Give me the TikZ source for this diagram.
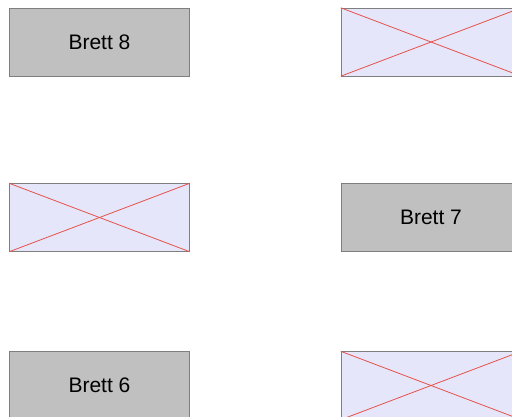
\documentclass[tikz,border=0pt]{standalone}
\usepackage{fontspec}
\setmainfont{Liberation Sans}
\definecolor{brettgrau}{HTML}{C0C0C0}
\definecolor{randgrau}{HTML}{7F7F7F}
\definecolor{leerfeld}{HTML}{E6E6FA}
\definecolor{kreuzrot}{HTML}{E5524A}

\begin{document}
\begin{tikzpicture}[x=1pt,y=-1pt,
  brett/.style={draw=randgrau,fill=brettgrau,minimum width=180pt,minimum height=68pt,
    inner sep=0pt,font=\fontsize{21}{25}\selectfont},
  leer/.style={draw=randgrau,fill=leerfeld,minimum width=180pt,minimum height=68pt,inner sep=0pt},
  kreuz/.style={kreuzrot,line width=.8pt}]
\clip (0,0) rectangle (512,416);
\node[brett] (b8) at (99.5,42) {Brett 8};
\node[leer] (l1) at (431,42) {};
\node[leer] (l2) at (99.5,217.5) {};
\node[brett] (b7) at (431,217.5) {Brett 7};
\node[brett] (b6) at (99.5,385.5) {Brett 6};
\node[leer] (l3) at (431,385.5) {};
% Kreuze in den leeren Feldern
\draw[kreuz] (l1.north west) -- (l1.south east);
\draw[kreuz] (l1.south west) -- (l1.north east);
\draw[kreuz] (l2.north west) -- (l2.south east);
\draw[kreuz] (l2.south west) -- (l2.north east);
\draw[kreuz] (l3.north west) -- (l3.south east);
\draw[kreuz] (l3.south west) -- (l3.north east);
\end{tikzpicture}
\end{document}
